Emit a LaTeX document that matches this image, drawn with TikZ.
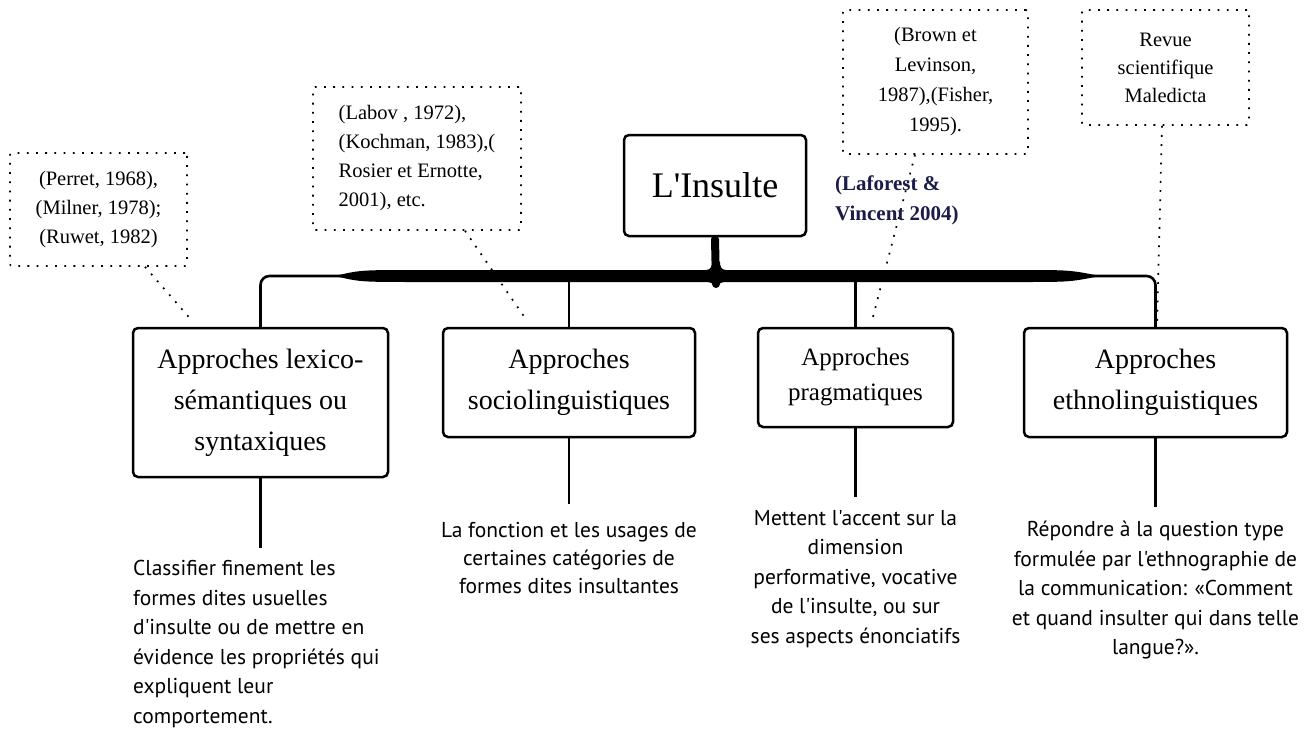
\documentclass[tikz,border=0pt]{standalone}
\usepackage{fontspec}
\newfontfamily\serifx{Liberation Serif}
\newfontfamily\bodysans{PT Sans}
\definecolor{navy}{RGB}{28,28,72}
\begin{document}
\begin{tikzpicture}[x=1pt,y=-1pt,
  approach/.style={draw, line width=2.5pt, rounded corners=5pt, inner sep=0pt, align=center,
    font=\serifx\fontsize{28}{41}\selectfont},
  refbox/.style={draw, line width=1.6pt, dash pattern=on 1.8pt off 7.4pt, rounded corners=2pt,
    inner sep=0pt, font=\serifx\fontsize{20.5}{29}\selectfont},
  refline/.style={line width=1.7pt, dash pattern=on 1.8pt off 7.4pt},
  conn/.style={line width=2.6pt},
  desc/.style={inner sep=0pt, font=\bodysans\fontsize{21.5}{29.5}\selectfont}]
\useasboundingbox (0,0) rectangle (1311,731);

% main node
\node[approach, minimum width=182pt, minimum height=101pt, font=\serifx\fontsize{36}{40}\selectfont] (main) at (715,185.5) {L'Insulte};

% approach boxes
\node[approach, minimum width=255pt, minimum height=149pt] (b1) at (260.5,402.5) {Approches lexico-\\sémantiques ou\\syntaxiques};
\node[approach, minimum width=252pt, minimum height=109pt] (b2) at (569,382.5) {Approches\\sociolinguistiques};
\node[approach, minimum width=195pt, minimum height=99pt, font=\serifx\fontsize{25}{35}\selectfont] (b3) at (855.5,377.5) {Approches\\pragmatiques};
\node[approach, minimum width=263pt, minimum height=109pt] (b4) at (1155.5,382.5) {Approches\\ethnolinguistiques};

% reference boxes
\node[refbox, minimum width=177pt, minimum height=113pt, align=center] (dA) at (98.5,209.5) {(Perret, 1968),\\(Milner, 1978);\\(Ruwet, 1982)};
\node[refbox, minimum width=208pt, minimum height=143pt, align=left] (dB) at (417,158.5) {(Labov , 1972),\\(Kochman, 1983),(\\Rosier et Ernotte,\\2001), etc.};
\node[refbox, minimum width=185pt, minimum height=144pt, align=center, font=\serifx\fontsize{20.5}{30}\selectfont] (dC) at (935.5,82) {(Brown et\\Levinson,\\1987),(Fisher,\\1995).};
\node[refbox, minimum width=167pt, minimum height=115pt, align=center, font=\serifx\fontsize{20.5}{28}\selectfont] (dD) at (1165.5,67.5) {Revue\\scientifique\\Maledicta};

% dotted connectors
\draw[refline] ([xshift=46.5pt]dA.south) -- ([xshift=-68.5pt,yshift=6pt]b1.north);
\draw[refline] ([xshift=48pt]dB.south) -- ([xshift=-42pt,yshift=6pt]b2.north);
\draw[refline] ([xshift=-20.5pt]dC.south) -- ([xshift=16.5pt,yshift=6pt]b3.north);
\draw[refline] ([xshift=-3.5pt]dD.south) -- ([xshift=1.5pt]b4.north);

% Laforest label
\node[inner sep=0pt, anchor=north west, align=left, text=navy, font=\serifx\bfseries\fontsize{21}{30}\selectfont] (lv) at (835,176) {(Laforest \&\\Vincent 2004)};

% tree connectors
\coordinate (hub) at (716,276);
\draw[conn, rounded corners=9pt] (b1.north) |- (hub) -| (b4.north);
\draw[conn] (b2.north) -- (b2.north |- hub);
\draw[conn] (b3.north) -- (b3.north |- hub);
\draw[line width=8pt, line cap=round] ([yshift=-2pt]main.south) -- ([yshift=-8pt]hub);
\fill (335,276) .. controls (360,270) .. (420,270) -- (706,270)
  .. controls (711,270) and (712,266) .. (712,262) -- (720,262)
  .. controls (720,266) and (721,270) .. (726,270) -- (1020,270)
  .. controls (1070,270) .. (1100,276)
  .. controls (1070,282) .. (1020,282) -- (726,282)
  .. controls (721,282) and (717,284) .. (716,288)
  .. controls (715,284) and (711,282) .. (706,282) -- (420,282)
  .. controls (360,282) .. (335,276) -- cycle;

% lower connectors
\coordinate (e1) at (260.5,548);
\coordinate (e2) at (569,504);
\coordinate (e3) at (855.5,497);
\coordinate (e4) at (1155.5,507);
\draw[conn] (b1.south) -- (e1);
\draw[conn] (b2.south) -- (e2);
\draw[conn] (b3.south) -- (e3);
\draw[conn] (b4.south) -- (e4);

% descriptions
\node[desc, anchor=north west, align=left] (t1) at (133,560) {Classifier finement les\\formes dites usuelles\\d'insulte ou de mettre en\\évidence les propriétés qui\\expliquent leur\\comportement.};
\node[desc, anchor=north, align=center, font=\bodysans\fontsize{21.5}{28}\selectfont] (t2) at (569,522) {La fonction et les usages de\\certaines catégories de\\formes dites insultantes};
\node[desc, anchor=north, align=center] (t3) at (855.5,510) {Mettent l'accent sur la\\dimension\\performative, vocative\\de l'insulte, ou sur\\ses aspects énonciatifs};
\node[desc, anchor=north, align=center] (t4) at (1155.5,521) {Répondre à la question type\\formulée par l'ethnographie de\\la communication: «Comment\\et quand insulter qui dans telle\\langue?».};
\end{tikzpicture}
\end{document}
